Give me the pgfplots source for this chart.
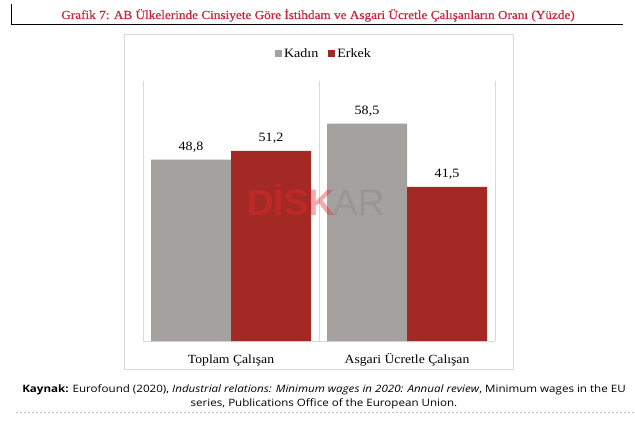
\documentclass[border=0pt]{standalone}
\usepackage{pgfplots}
\pgfplotsset{compat=1.18}
\usepackage{fontspec}
\setmainfont[FakeStretch=1.1]{Liberation Serif}
\newfontfamily\titlefont[FakeStretch=1.08,FakeBold=0.6]{Liberation Serif}
\newfontfamily\srcfont[FakeStretch=1.14]{Open Sans}
\newfontfamily\wmfont{Liberation Sans}
\definecolor{kadin}{RGB}{166,161,161}
\definecolor{erkek}{RGB}{163,41,36}
\definecolor{framegray}{RGB}{217,217,217}
\definecolor{titlered}{RGB}{205,35,60}
\definecolor{wmred}{RGB}{230,40,50}
\begin{document}
\begin{tikzpicture}[x=1bp,y=1bp]
\path[use as bounding box] (0,0) rectangle (635,420);
\fill[white] (0,0) rectangle (635,420);
\draw[black, line width=1bp] (11,416) -- (11,395) -- (623,395);
\node[anchor=base, inner sep=0, text=titlered, font=\titlefont\fontsize{12.3}{14}\selectfont] at (318,401)
  {Grafik 7: AB Ülkelerinde Cinsiyete Göre İstihdam ve Asgari Ücretle Çalışanların Oranı (Yüzde)};
\draw[framegray, line width=1bp] (124,386) rectangle (513,51);
\begin{axis}[
  at={(143bp,79bp)}, anchor=south west,
  scale only axis, width=352bp, height=260bp,
  xmin=-0.5, xmax=1.5, ymin=0, ymax=70,
  ybar=0pt, bar width=80bp,
  axis x line*=bottom, axis y line*=left,
  x axis line style={framegray, line width=1bp, -},
  y axis line style={draw=none},
  ytick=\empty,
  xtick={-0.5,0.5,1.5}, xticklabels={},
  xmajorgrids, major grid style={framegray, line width=1bp},
  major tick length=0,
  extra x ticks={0,1},
  extra x tick labels={Toplam Çalışan,Asgari Ücretle Çalışan},
  extra x tick style={grid=none, major tick length=0,
    xticklabel style={anchor=base, yshift=-22bp, inner sep=0, font=\fontsize{12.5}{14}\selectfont}},
  nodes near coords,
  nodes near coords style={anchor=base, yshift=9bp, inner sep=0, font=\fontsize{12.8}{14}\selectfont, text=black},
  /pgf/number format/.cd, use comma, fixed, fixed zerofill, precision=1, assume math mode=true,
  /pgfplots/.cd,
  legend columns=2,
  legend style={draw=none, fill=none, at={(0.514,1.104)}, anchor=center,
    font=\fontsize{12.8}{14}\selectfont,
    /tikz/every even column/.append style={column sep=8bp}},
  legend image code/.code={\fill[#1] (0bp,-3.5bp) rectangle (7bp,3.5bp);},
  clip=false,
]
\addplot[fill=kadin, draw=none, bar shift=-40bp] coordinates {(0,48.8) (1,58.5)};
\addplot[fill=erkek, draw=none, bar shift=40bp] coordinates {(0,51.2) (1,41.5)};
\legend{Kadın,Erkek}
\end{axis}
\node[anchor=base west, inner sep=0, text=wmred, opacity=0.4, font=\wmfont\bfseries\fontsize{37}{40}\selectfont] at (247,205) {DİSK};
\node[anchor=base west, inner sep=0, text=gray, opacity=0.35, font=\wmfont\fontsize{37}{40}\selectfont] at (333,205) {AR};
\node[anchor=base, inner sep=0, font=\srcfont\fontsize{10.2}{11}\selectfont] at (324,28)
  {\textbf{Kaynak:} Eurofound (2020), \textit{Industrial relations: Minimum wages in 2020: Annual review}, Minimum wages in the EU};
\node[anchor=base, inner sep=0, font=\srcfont\fontsize{10.2}{11}\selectfont] at (324,14)
  {series, Publications Office of the European Union.};
\draw[gray!50, line width=0.8bp, dash pattern=on 2bp off 2bp] (16,8) -- (635,8);
\end{tikzpicture}
\end{document}
